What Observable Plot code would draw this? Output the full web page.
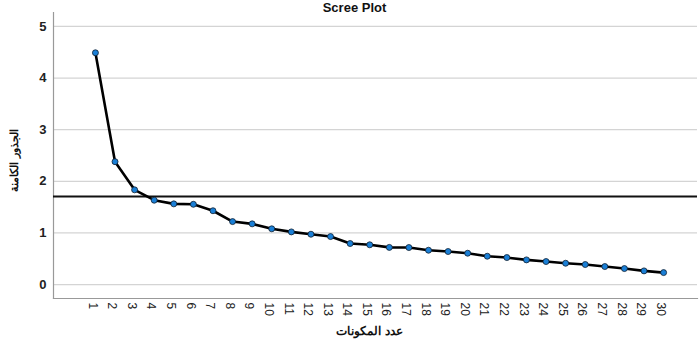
<!DOCTYPE html>
<html>
<head>
<meta charset="utf-8">
<script src="https://cdn.jsdelivr.net/npm/d3@7"></script>
<script src="https://cdn.jsdelivr.net/npm/@observablehq/plot@0.6"></script>
<style>
  html, body { margin: 0; padding: 0; background: #fff; }
  svg { display: block; font-family: "Liberation Sans", Arial, sans-serif; }
</style>
</head>
<body>
<div id="chart"></div>
<script>
const components = d3.range(1, 31);
const eigenvalues = [4.49, 2.38, 1.835, 1.634, 1.563, 1.555, 1.43, 1.22, 1.176, 1.08,
  1.02, 0.975, 0.93, 0.795, 0.77, 0.72, 0.717, 0.665, 0.64, 0.607,
  0.549, 0.523, 0.478, 0.446, 0.413, 0.388, 0.349, 0.31, 0.265, 0.232];
const yTicks = [0, 1, 2, 3, 4, 5];
const refLine = [1.705];
const title = "Scree Plot";
const xLabel = "عدد المكونات";
const yLabel = "الجذور الكامنة";

const data = components.map((c, i) => ({c, v: eigenvalues[i]}));

const plot = Plot.plot({
  width: 699,
  height: 342,
  marginLeft: 53,
  marginRight: 2,
  marginTop: 12,
  marginBottom: 44,
  style: {fontFamily: "'Liberation Sans', Arial, sans-serif", background: "#fff"},
  x: {domain: [-1.14, 31.73], axis: null},
  y: {domain: [-0.27, 5.27], axis: null},
  marks: [
    Plot.ruleY(yTicks, {stroke: "#d4d4d4", strokeWidth: 1.2}),
    Plot.text(yTicks, {y: d => d, frameAnchor: "left", dx: -7, textAnchor: "end", text: d => String(d), fontSize: 13, fontWeight: "bold", fill: "#222"}),
    Plot.text(components, {x: d => d, y: () => -0.27, dy: 4, dx: -3, rotate: 90, textAnchor: "start", text: d => String(d), fontSize: 12, fill: "#222"}),
    Plot.frame({anchor: "left", stroke: "#999", strokeWidth: 1.2}),
    Plot.frame({anchor: "bottom", stroke: "#999", strokeWidth: 1.2}),
    Plot.ruleY(refLine, {stroke: "#111", strokeWidth: 2}),
    Plot.line(data, {x: "c", y: "v", stroke: "#000", strokeWidth: 2.6}),
    Plot.dot(data, {x: "c", y: "v", r: 3, fill: "#1a7fd6", stroke: "#102030", strokeWidth: 0.8}),
    Plot.text([title], {frameAnchor: "top", dx: -21, dy: -10, fontSize: 13, fontWeight: "bold", fill: "#111"}),
    Plot.text([xLabel], {frameAnchor: "bottom", dx: -6, dy: 36, fontSize: 12, fontWeight: "bold", fill: "#111"}),
    Plot.text([yLabel], {frameAnchor: "left", textAnchor: "middle", dx: -39, dy: 5, rotate: -90, fontSize: 11, fontWeight: "bold", fill: "#111"})
  ]
});
document.getElementById("chart").appendChild(plot);
</script>
</body>
</html>
